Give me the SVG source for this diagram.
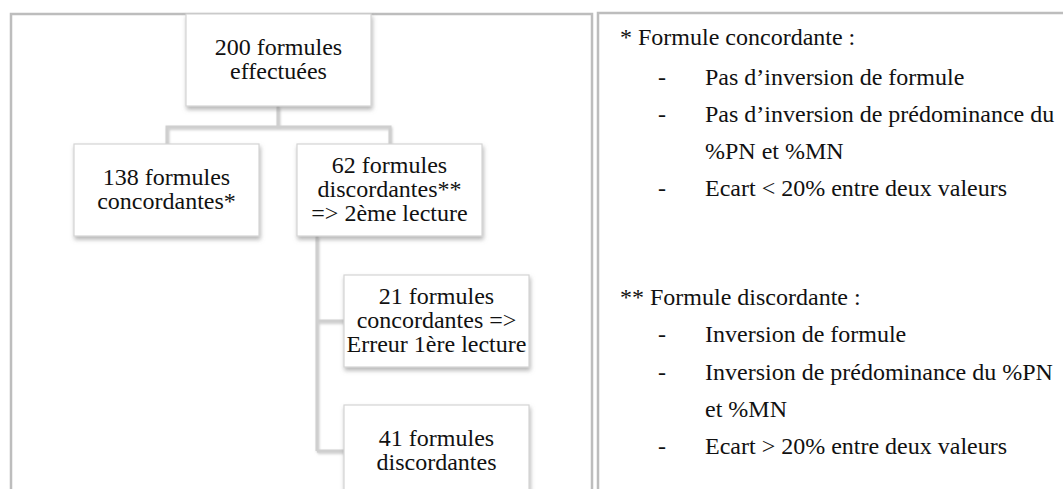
<svg xmlns="http://www.w3.org/2000/svg" width="1063" height="489" viewBox="0 0 1063 489">
<defs>
<filter id="sh" x="-10%" y="-10%" width="125%" height="130%">
<feDropShadow dx="1" dy="3" stdDeviation="2" flood-color="#7a7a7a" flood-opacity="0.55"/>
</filter>
<filter id="lsh" x="-10%" y="-10%" width="130%" height="130%">
<feDropShadow dx="1" dy="1.5" stdDeviation="1" flood-color="#9a9a9a" flood-opacity="0.5"/>
</filter>
</defs>
<style>
.frame{fill:none;stroke:#bdbdbd;stroke-width:2.5}
.box{fill:#ffffff;stroke:#d4d4d4;stroke-width:1.2}
.t{font-family:"Liberation Serif","Times New Roman",serif;font-size:24px;fill:#111111}
.c{text-anchor:middle}
.conn{fill:none;stroke:#cfcfcf;stroke-width:3}
</style>
<rect width="1063" height="489" fill="#ffffff"/>
<rect class="frame" x="11" y="14" width="581" height="520"/>
<rect class="frame" x="598" y="13" width="520" height="520"/>
<g id="connectors" filter="url(#lsh)">
<path class="conn" d="M278 106 V127 M167 144 V127 H390 V144"/>
<path class="conn" d="M317 236 V451 M317 321 H344 M317 451 H344"/>
</g>
<g id="n200">
<rect class="box" x="186" y="14" width="185" height="92" filter="url(#sh)"/>
<text class="t c" x="278.5" y="55">200 formules</text>
<text class="t c" x="278.5" y="79">effectuées</text>
</g>
<g id="n138">
<rect class="box" x="74" y="144" width="185" height="92" filter="url(#sh)"/>
<text class="t c" x="166.5" y="185">138 formules</text>
<text class="t c" x="166.5" y="209">concordantes*</text>
</g>
<g id="n62">
<rect class="box" x="297" y="144" width="185" height="92" filter="url(#sh)"/>
<text class="t c" x="389.5" y="173">62 formules</text>
<text class="t c" x="389.5" y="197">discordantes**</text>
<text class="t c" x="389.5" y="221">=&gt; 2ème lecture</text>
</g>
<g id="n21">
<rect class="box" x="344" y="275" width="185" height="92" filter="url(#sh)"/>
<text class="t c" x="436.5" y="304">21 formules</text>
<text class="t c" x="436.5" y="328">concordantes =&gt;</text>
<text class="t c" x="436.5" y="352">Erreur 1ère lecture</text>
</g>
<g id="n41">
<rect class="box" x="344" y="405" width="185" height="92" filter="url(#sh)"/>
<text class="t c" x="436.5" y="446">41 formules</text>
<text class="t c" x="436.5" y="470">discordantes</text>
</g>
<g id="legend">
<text class="t" x="620" y="45">* Formule concordante :</text>
<text class="t" x="658" y="85">-</text>
<text class="t" x="705" y="85">Pas d’inversion de formule</text>
<text class="t" x="658" y="122">-</text>
<text class="t" x="705" y="122">Pas d’inversion de prédominance du</text>
<text class="t" x="705" y="159">%PN et %MN</text>
<text class="t" x="658" y="196">-</text>
<text class="t" x="705" y="196">Ecart &lt; 20% entre deux valeurs</text>
<text class="t" x="620" y="305">** Formule discordante :</text>
<text class="t" x="658" y="342">-</text>
<text class="t" x="705" y="342">Inversion de formule</text>
<text class="t" x="658" y="380">-</text>
<text class="t" x="705" y="380">Inversion de prédominance du %PN</text>
<text class="t" x="705" y="417">et %MN</text>
<text class="t" x="658" y="454">-</text>
<text class="t" x="705" y="454">Ecart &gt; 20% entre deux valeurs</text>
</g>
</svg>
